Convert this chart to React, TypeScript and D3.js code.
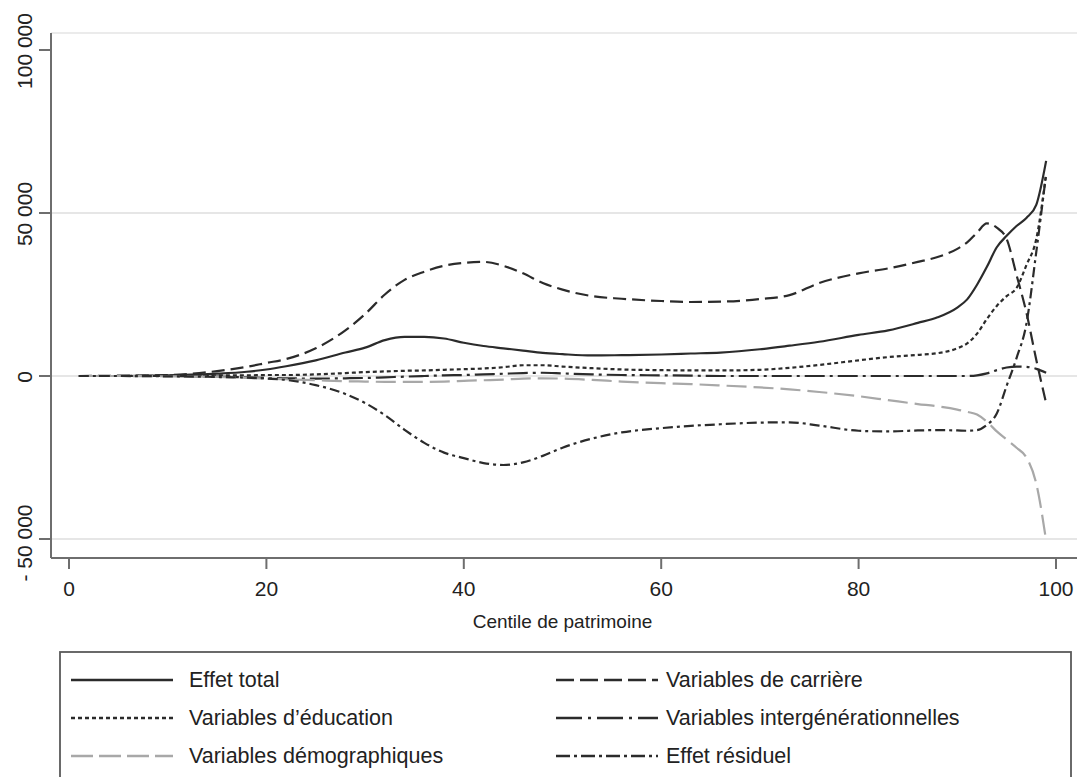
import React from "react";
import * as d3 from "d3";

const centiles = [1, 5, 10, 15, 18, 20, 22, 25, 28, 30, 32, 34, 36, 38, 40, 42, 44, 46, 48, 50, 53, 56, 60, 63, 66, 70, 73, 76, 80, 83, 86, 88, 90, 91, 92, 93, 94, 95, 96, 97, 98, 99];

const effetTotal = [0, 0, 200, 700, 1300, 2000, 3000, 4800, 7200, 8700, 11000, 12000, 12000, 11500, 10200, 9200, 8500, 7800, 7100, 6700, 6300, 6400, 6600, 6900, 7200, 8200, 9300, 10500, 12600, 14000, 16300, 18000, 21000, 23500, 28000, 33500, 39500, 43000, 46000, 48500, 52500, 66000];
const carriere = [0, 100, 300, 1500, 2800, 4000, 5200, 8500, 14000, 19000, 25000, 29500, 32000, 33800, 34700, 35000, 33800, 31500, 28500, 26500, 24500, 23700, 23000, 22700, 22800, 23600, 24800, 28500, 31500, 33000, 35000, 36500, 39000, 41000, 44000, 46800, 45500, 42000, 31000, 19500, 5000, -8300];
const education = [0, 0, 100, 200, 200, 300, 300, 500, 900, 1200, 1400, 1600, 1700, 1900, 2100, 2300, 2700, 3300, 3300, 2900, 2400, 2000, 1800, 1700, 1700, 1900, 2500, 3400, 4800, 5800, 6500, 7000, 8500, 10000, 13000, 17500, 21500, 24500, 27000, 34000, 42000, 62000];
const intergen = [0, 0, 0, -200, -400, -600, -700, -800, -700, -600, -400, -200, 0, 200, 300, 500, 700, 900, 1000, 800, 500, 300, 200, 100, 0, 0, 0, 0, 0, 0, 0, 0, 0, 0, 200, 800, 1800, 2600, 2900, 2800, 2200, 1000];
const demographie = [0, 0, -100, -300, -600, -800, -1000, -1300, -1600, -1700, -1800, -1800, -1800, -1700, -1500, -1300, -1100, -800, -700, -800, -1200, -1700, -2200, -2500, -2900, -3500, -4100, -4900, -6200, -7400, -8600, -9300, -10300, -11000, -11800, -14000, -17000, -19500, -22000, -25000, -33000, -50500];
const residuel = [0, 0, -100, -300, -500, -800, -1200, -2800, -5500, -8300, -12000, -16500, -20500, -23500, -25200, -26700, -27300, -26500, -24500, -22000, -19200, -17300, -16000, -15300, -14800, -14300, -14200, -15200, -16800, -17000, -16700, -16600, -16700, -16800, -16600, -15000, -11500, -3000, 5500, 16000, 38000, 62000];

const xTicks = [0, 20, 40, 60, 80, 100];
const yTicks = [-50000, 0, 50000, 100000];
const yTickLabels = ["- 50 000", "0", "50 000", "100 000"];
const yGrid = [-50000, 0, 50000];
const xTitle = "Centile de patrimoine";

const seriesNames = [
  "Effet total",
  "Variables de carrière",
  "Variables d’éducation",
  "Variables intergénérationnelles",
  "Variables démographiques",
  "Effet résiduel",
];
const seriesValues = [effetTotal, carriere, education, intergen, demographie, residuel];

const styles = [
  { color: "#2b2b2b", dash: "none", width: 2.2, legendDash: "none" },
  { color: "#2b2b2b", dash: "13 6", width: 2.2, legendDash: "18 6" },
  { color: "#2b2b2b", dash: "4 3", width: 2.2, legendDash: "4 3" },
  { color: "#2b2b2b", dash: "20 5 3 5", width: 2.2, legendDash: "26 6 3 6" },
  { color: "#a8a8a8", dash: "20 7", width: 2.2, legendDash: "22 6" },
  { color: "#2b2b2b", dash: "10 4 3 4", width: 2.2, legendDash: "14 4 3 4" },
];

const legendOrder = [0, 1, 2, 3, 4, 5];

export default function App() {
  const W = 1079;
  const H = 777;
  const x = d3.scaleLinear().domain([0, 100]).range([69, 1056]);
  const y = d3.scaleLinear().domain([-50000, 100000]).range([539, 50]);
  const plotLeft = 51;
  const plotRight = 1077;
  const plotTop = 33;
  const plotBottom = 558;
  const font = "'Liberation Sans', Arial, Helvetica, sans-serif";

  const line = d3
    .line<[number, number]>()
    .x((d) => x(d[0]))
    .y((d) => y(d[1]))
    .curve(d3.curveMonotoneX);

  const legendRowsY = [680, 718, 756];
  const legendCols = [
    { x1: 71, x2: 173, tx: 189 },
    { x1: 556, x2: 658, tx: 666 },
  ];

  return (
    <div style={{ position: "absolute", left: 0, top: 0 }}>
      <svg width={W} height={H} style={{ display: "block", background: "#fff" }} fontFamily={font}>
        <rect x={0} y={0} width={W} height={H} fill="#fff" />
        <line x1={plotLeft} x2={plotRight} y1={plotTop} y2={plotTop} stroke="#e4e4e4" strokeWidth={1.5} />
        {yGrid.map((v) => (
          <line key={"g" + v} x1={plotLeft} x2={plotRight} y1={y(v)} y2={y(v)} stroke="#dedede" strokeWidth={1.5} />
        ))}
        {seriesValues.map((vals, i) => (
          <path
            key={"s" + i}
            d={line(centiles.map((c, k) => [c, vals[k]] as [number, number])) || ""}
            fill="none"
            stroke={styles[i].color}
            strokeWidth={styles[i].width}
            strokeDasharray={styles[i].dash}
            strokeLinejoin="round"
          />
        ))}
        <line x1={plotLeft} x2={plotLeft} y1={plotTop} y2={plotBottom} stroke="#6e6e6e" strokeWidth={2} />
        <line x1={plotLeft} x2={plotRight} y1={plotBottom} y2={plotBottom} stroke="#6e6e6e" strokeWidth={2} />
        {yTicks.map((v, i) => (
          <g key={"yt" + v}>
            <line x1={plotLeft - 12} x2={plotLeft} y1={y(v)} y2={y(v)} stroke="#6e6e6e" strokeWidth={2} />
            <text
              transform={`translate(32,${y(v) + (v < 0 ? 4 : 1)}) rotate(-90)`}
              textAnchor="middle"
              fontSize={21}
              fill="#222"
            >
              {yTickLabels[i]}
            </text>
          </g>
        ))}
        {xTicks.map((v) => (
          <g key={"xt" + v}>
            <line x1={x(v)} x2={x(v)} y1={plotBottom} y2={plotBottom + 11} stroke="#6e6e6e" strokeWidth={2} />
            <text x={x(v)} y={596} textAnchor="middle" fontSize={21} fill="#222">
              {v}
            </text>
          </g>
        ))}
        <text x={(x(0) + x(100)) / 2} y={628} textAnchor="middle" fontSize={19} fill="#222">
          {xTitle}
        </text>
        <rect x={60} y={652} width={1011} height={140} fill="#fff" stroke="#5a5a5a" strokeWidth={1.8} />
        {legendOrder.map((i) => {
          const col = legendCols[i % 2];
          const ry = legendRowsY[Math.floor(i / 2)];
          return (
            <g key={"l" + i}>
              <line
                x1={col.x1}
                x2={col.x2}
                y1={ry}
                y2={ry}
                stroke={styles[i].color}
                strokeWidth={2.6}
                strokeDasharray={styles[i].legendDash}
              />
              <text x={col.tx} y={ry + 7} fontSize={21.5} fill="#222">
                {seriesNames[i]}
              </text>
            </g>
          );
        })}
      </svg>
    </div>
  );
}
